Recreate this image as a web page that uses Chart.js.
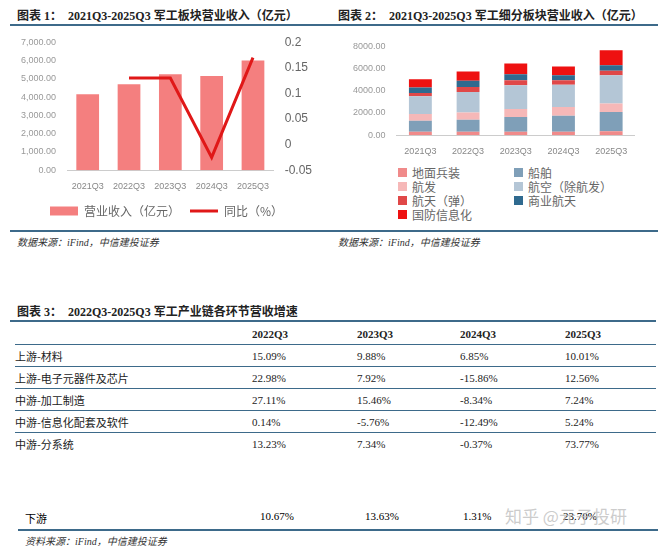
<!DOCTYPE html>
<html lang="zh">
<head>
<meta charset="UTF-8">
<script src="https://cdn.jsdelivr.net/npm/chart.js"></script>
<style>
  body { margin: 0; width: 668px; height: 548px; background: #fff; position: relative; font-family: "Noto Sans CJK SC", sans-serif; overflow: hidden; }
  .abs { position: absolute; }
  .title { font-family: "Liberation Serif", "Noto Sans CJK SC", serif; font-weight: bold; font-size: 12px; color: #222; }
  .rule { height: 2px; background: #3d6a8a; }
  .src { font-style: italic; font-size: 10px; color: #333; font-family: "Liberation Serif", "Noto Sans CJK SC", serif; }
  .leg { font-size: 12px; color: #666; display: flex; align-items: center; height: 14px; }
  .leg i { display: inline-block; width: 9px; height: 9px; margin-right: 5px; }
  table { border-collapse: collapse; font-size: 11px; color: #222; table-layout: fixed; }
  td { height: 21px; padding: 0; border-bottom: 1.5px solid #3d6a8a; }
  .hd td { font-family: "Liberation Serif", serif; font-weight: bold; }
  .num { font-family: "Liberation Serif", serif; }
</style>
</head>
<body>
<div class="abs title" style="left:17px;top:6px">图表 1：&nbsp; 2021Q3-2025Q3 军工板块营业收入（亿元）</div>
<div class="abs rule" style="left:10px;top:24px;width:324px"></div>
<div class="abs" style="left:10px;top:32px;width:315px;height:195px"><canvas id="c1"></canvas></div>
<div class="abs rule" style="left:10px;top:230px;width:324px"></div>
<div class="abs src" style="left:17px;top:234px">数据来源：iFind，中信建投证券</div>

<div class="abs title" style="left:338px;top:6px">图表 2：&nbsp; 2021Q3-2025Q3 军工细分板块营业收入（亿元）</div>
<div class="abs rule" style="left:334px;top:24px;width:324px"></div>
<div class="abs" style="left:350px;top:38px;width:285px;height:122px"><canvas id="c2"></canvas></div>
<div id="leg2" class="abs" style="left:398px;top:165px;width:240px;display:grid;grid-template-columns:116px 124px;row-gap:0px"></div>
<div class="abs rule" style="left:334px;top:230px;width:324px"></div>
<div class="abs src" style="left:338px;top:234px">数据来源：iFind，中信建投证券</div>

<div class="abs title" style="left:17px;top:302px">图表 3：&nbsp; 2022Q3-2025Q3 军工产业链各环节营收增速</div>
<div class="abs rule" style="left:10px;top:320px;width:646px"></div>
<table id="tbl" class="abs" style="left:15px;top:323px;width:641px"></table>
<div class="abs" style="left:25px;top:510px;font-size:11px">下游</div>
<div id="down" class="abs num" style="left:0;top:510px;font-size:11px"></div>
<div class="abs" style="left:505px;top:503px;font-size:17px;color:rgba(190,190,190,0.8)">知乎 @元子投研</div>
<div class="abs rule" style="left:18px;top:529px;width:640px"></div>
<div class="abs src" style="left:25px;top:533px">资料来源：iFind，中信建投证券</div>

<script>
const years = ['2021Q3', '2022Q3', '2023Q3', '2024Q3', '2025Q3'];
const revenue = [4150, 4700, 5250, 5150, 6000];
const yoy = [null, 0.13, 0.13, -0.025, 0.17];

const segNames = ['地面兵装', '船舶', '航发', '航空（除航发）', '航天（弹）', '商业航天', '国防信息化'];
const segColors = ['#f08a8a', '#7f9fb8', '#f6b8b8', '#b4c6d6', '#e04848', '#2f6a8f', '#ee1111'];
const ground = [300, 300, 300, 300, 350];
const ship = [1000, 1100, 1350, 1450, 1750];
const engine = [600, 650, 700, 800, 750];
const aviation = [1600, 1850, 2150, 2000, 2550];
const missile = [300, 450, 450, 400, 400];
const commercial = [500, 550, 550, 450, 500];
const defenseInfo = [750, 850, 950, 800, 1350];
const segData = [ground, ship, engine, aviation, missile, commercial, defenseInfo];

const tblHeads = ['', '2022Q3', '2023Q3', '2024Q3', '2025Q3'];
const tblRows = ['上游-材料', '上游-电子元器件及芯片', '中游-加工制造', '中游-信息化配套及软件', '中游-分系统'];
const tblVals = [
  ['15.09%', '9.88%', '6.85%', '10.01%'],
  ['22.98%', '7.92%', '-15.86%', '12.56%'],
  ['27.11%', '15.46%', '-8.34%', '7.24%'],
  ['0.14%', '-5.76%', '-12.49%', '5.24%'],
  ['13.23%', '7.34%', '-0.37%', '73.77%']
];
const downVals = ['10.67%', '13.63%', '1.31%', '23.70%'];

const tickFont = { family: 'Liberation Sans', size: 9 };

new Chart(document.getElementById('c1'), {
  data: {
    labels: years,
    datasets: [
      { type: 'line', label: '同比（%）', data: yoy, yAxisID: 'y1', borderColor: '#e01818', backgroundColor: '#e01818', borderWidth: 3, pointRadius: 0, pointStyle: 'line', tension: 0 },
      { type: 'bar', label: '营业收入（亿元）', data: revenue, yAxisID: 'y', backgroundColor: '#f47f7f', pointStyle: 'rect', barPercentage: 0.55, categoryPercentage: 1 }
    ]
  },
  options: {
    responsive: true, maintainAspectRatio: false, animation: false,
    layout: { padding: { left: 8, right: 10 } },
    plugins: {
      legend: { position: 'bottom', reverse: true, labels: { usePointStyle: true, pointStyleWidth: 28, boxHeight: 9, color: '#666', font: { size: 12, family: 'Noto Sans CJK SC' } } },
      tooltip: { enabled: false }
    },
    scales: {
      x: { grid: { display: false }, border: { color: '#ccc' }, ticks: { color: '#888', font: tickFont } },
      y: { min: 0, max: 7000, ticks: { stepSize: 1000, color: '#999', font: tickFont, callback: v => v.toLocaleString('en-US', { minimumFractionDigits: 2 }) }, grid: { display: false }, border: { display: false } },
      y1: { position: 'right', min: -0.05, max: 0.2, ticks: { stepSize: 0.05, color: '#666', font: { family: 'Liberation Sans', size: 12 }, callback: v => +v.toFixed(2) }, grid: { display: false }, border: { display: false } }
    }
  }
});

new Chart(document.getElementById('c2'), {
  type: 'bar',
  data: {
    labels: years,
    datasets: segNames.map((n, i) => ({ label: n, data: segData[i], backgroundColor: segColors[i], barPercentage: 0.48, categoryPercentage: 1 }))
  },
  options: {
    responsive: true, maintainAspectRatio: false, animation: false,
    plugins: { legend: { display: false }, tooltip: { enabled: false } },
    scales: {
      x: { stacked: true, grid: { display: false }, border: { color: '#ccc' }, ticks: { color: '#888', font: tickFont } },
      y: { stacked: true, min: 0, max: 8000, ticks: { stepSize: 2000, color: '#999', font: tickFont, callback: v => v.toFixed(2) }, grid: { display: false }, border: { display: false } }
    }
  }
});

const leg2 = document.getElementById('leg2');
segNames.forEach((n, i) => {
  const d = document.createElement('div');
  d.className = 'leg';
  d.innerHTML = '<i style="background:' + segColors[i] + '"></i>' + n;
  leg2.appendChild(d);
});

const tbl = document.getElementById('tbl');
const colW = [237, 105, 103, 105, 91];
let html = '<tr class="hd">' + tblHeads.map((h, i) => '<td style="width:' + colW[i] + 'px">' + h + '</td>').join('') + '</tr>';
tblRows.forEach((r, ri) => {
  html += '<tr><td>' + r + '</td>' + tblVals[ri].map(v => '<td class="num">' + v + '</td>').join('') + '</tr>';
});
tbl.innerHTML = html;
tbl.rows[tbl.rows.length - 1].querySelectorAll('td').forEach(td => td.style.borderBottom = 'none');

const down = document.getElementById('down');
const downX = [260, 365, 463, 563];
down.innerHTML = downVals.map((v, i) => '<span style="position:absolute;left:' + downX[i] + 'px">' + v + '</span>').join('');
</script>
</body>
</html>
